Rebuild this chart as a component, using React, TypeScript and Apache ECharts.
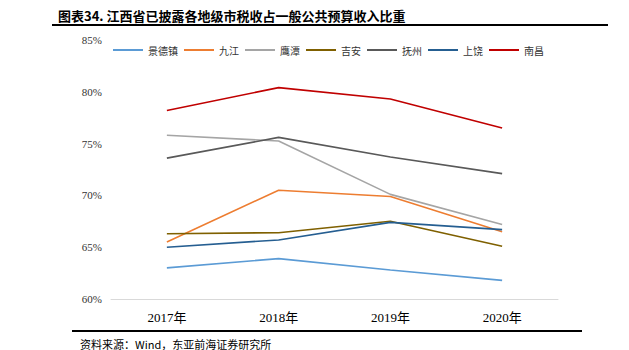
import React, { useEffect, useRef } from "react";
import * as echarts from "echarts";

const categories = ["2017年", "2018年", "2019年", "2020年"];
const seriesNames = ["景德镇", "九江", "鹰潭", "吉安", "抚州", "上饶", "南昌"];
const jingdezhen = [63.0, 63.9, 62.8, 61.8];
const jiujiang = [65.5, 70.5, 69.9, 66.5];
const yingtan = [75.8, 75.25, 70.1, 67.2];
const jian = [66.3, 66.4, 67.5, 65.1];
const fuzhou = [73.6, 75.6, 73.7, 72.1];
const shangrao = [65.0, 65.7, 67.4, 66.7];
const nanchang = [78.2, 80.4, 79.3, 76.5];
const seriesData = [jingdezhen, jiujiang, yingtan, jian, fuzhou, shangrao, nanchang];
const colors = ["#5B9BD5", "#ED7D31", "#A5A5A5", "#7F6000", "#595959", "#255E91", "#C00000"];
const yTicks = { min: 60, max: 85, interval: 5 };

const title = "图表34. 江西省已披露各地级市税收占一般公共预算收入比重";
const source = "资料来源：Wind，东亚前海证券研究所";

export default function App() {
  const ref = useRef<HTMLDivElement>(null);
  useEffect(() => {
    document.body.style.margin = "0";
    const chart = echarts.init(ref.current!, null, { renderer: "svg" });
    chart.setOption({
      animation: false,
      backgroundColor: "#ffffff",
      grid: { left: 111, right: 71, top: 40, bottom: 51 },
      legend: {
        top: 40,
        left: 108,
        itemWidth: 30,
        itemHeight: 2,
        itemGap: 6,
        icon: "rect",
        textStyle: { fontFamily: "Noto Sans CJK SC", fontSize: 10, color: "#333" },
        data: seriesNames,
      },
      xAxis: {
        type: "category",
        data: categories,
        boundaryGap: true,
        axisLine: { lineStyle: { color: "#D9D9D9", width: 1 } },
        axisTick: { show: false },
        axisLabel: { fontFamily: "Liberation Serif, Noto Sans CJK SC", fontSize: 13, color: "#000", margin: 12 },
      },
      yAxis: {
        type: "value",
        min: yTicks.min,
        max: yTicks.max,
        interval: yTicks.interval,
        axisLine: { show: false },
        axisTick: { show: false },
        splitLine: { show: false },
        axisLabel: {
          fontFamily: "Liberation Serif",
          fontSize: 11,
          color: "#333",
          margin: 9,
          formatter: (v: number) => `${v}%`,
        },
      },
      series: seriesNames.map((name, i) => ({
        name,
        type: "line",
        data: seriesData[i],
        symbol: "none",
        lineStyle: { color: colors[i], width: 1.6 },
        itemStyle: { color: colors[i] },
      })),
      graphic: [
        {
          type: "text",
          left: 58,
          top: 9,
          style: {
            text: title,
            font: "bold 13px 'Noto Sans CJK SC'",
            fill: "#000",
          },
        },
        {
          type: "line",
          shape: { x1: 52, y1: 25, x2: 608, y2: 25 },
          style: { stroke: "#000", lineWidth: 2 },
        },
        {
          type: "line",
          shape: { x1: 72, y1: 331, x2: 582, y2: 331 },
          style: { stroke: "#000", lineWidth: 2 },
        },
        {
          type: "text",
          left: 80,
          top: 338,
          style: {
            text: source,
            font: "11px 'Noto Sans CJK SC'",
            fill: "#000",
          },
        },
      ],
    });
    return () => chart.dispose();
  }, []);
  return <div ref={ref} style={{ width: 629, height: 350 }} />;
}
